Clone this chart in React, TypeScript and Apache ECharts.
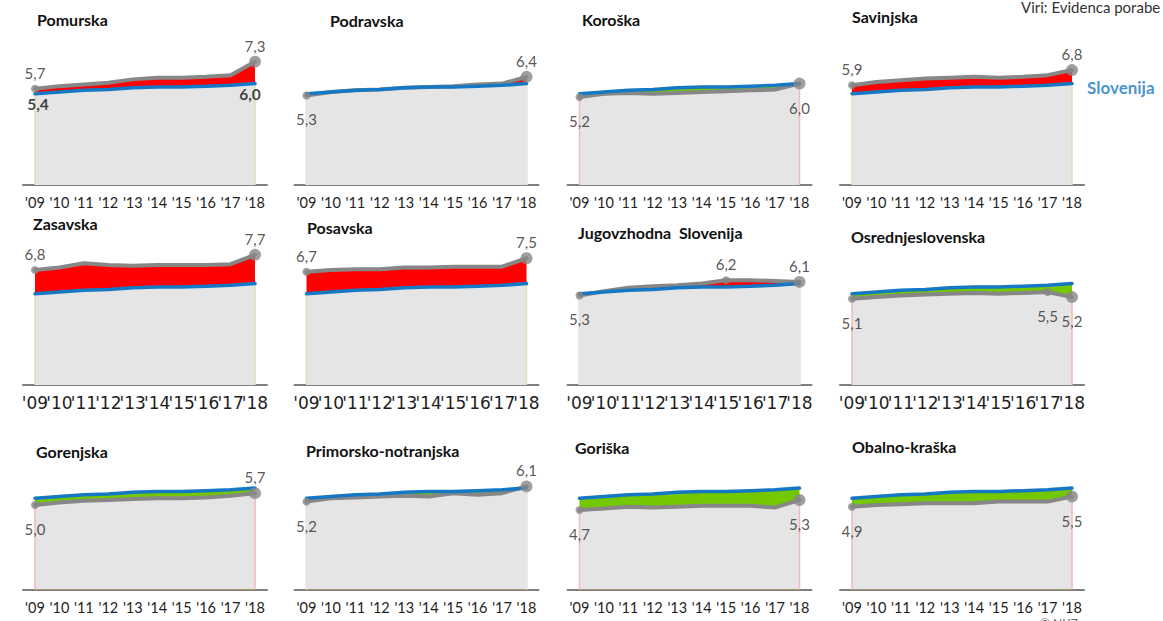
import React, { useEffect, useRef } from 'react';
import * as echarts from 'echarts';

const years = ["'09", "'10", "'11", "'12", "'13", "'14", "'15", "'16", "'17", "'18"];

const slovenija = [5.4, 5.5, 5.6, 5.65, 5.75, 5.8, 5.8, 5.85, 5.9, 6.0];

const pomurska = [5.7, 5.85, 5.95, 6.05, 6.25, 6.35, 6.35, 6.4, 6.5, 7.3];
const podravska = [5.3, 5.5, 5.6, 5.65, 5.75, 5.8, 5.85, 5.95, 6.0, 6.4];
const koroska = [5.2, 5.4, 5.45, 5.4, 5.45, 5.5, 5.55, 5.6, 5.65, 6.0];
const savinjska = [5.9, 6.1, 6.2, 6.3, 6.35, 6.4, 6.35, 6.4, 6.5, 6.8];
const zasavska = [6.8, 6.95, 7.2, 7.1, 7.05, 7.1, 7.1, 7.1, 7.15, 7.7];
const posavska = [6.7, 6.8, 6.85, 6.85, 6.95, 6.95, 7.0, 7.0, 7.0, 7.5];
const jugovzhodna = [5.3, 5.55, 5.75, 5.85, 5.9, 6.0, 6.2, 6.2, 6.15, 6.1];
const osrednjeslovenska = [5.1, 5.2, 5.3, 5.35, 5.4, 5.45, 5.4, 5.45, 5.5, 5.2];
const gorenjska = [5.0, 5.15, 5.25, 5.3, 5.35, 5.4, 5.4, 5.45, 5.55, 5.7];
const primorsko = [5.2, 5.4, 5.45, 5.5, 5.55, 5.5, 5.7, 5.6, 5.7, 6.1];
const goriska = [4.7, 4.8, 4.9, 4.85, 4.9, 4.95, 4.95, 4.95, 4.85, 5.3];
const obalno = [4.9, 5.0, 5.05, 5.1, 5.1, 5.1, 5.2, 5.2, 5.2, 5.5];

const regionNames = [
  'Pomurska', 'Podravska', 'Koroška', 'Savinjska',
  'Zasavska', 'Posavska', 'Jugovzhodna  Slovenija', 'Osrednjeslovenska',
  'Gorenjska', 'Primorsko-notranjska', 'Goriška', 'Obalno-kraška',
];
const regionValues = [
  pomurska, podravska, koroska, savinjska,
  zasavska, posavska, jugovzhodna, osrednjeslovenska,
  gorenjska, primorsko, goriska, obalno,
];
// indices of labelled points per region
const labelledPoints = [
  [0, 9], [0, 9], [0, 9], [0, 9],
  [0, 9], [0, 9], [0, 6, 9], [0, 8, 9],
  [0, 9], [0, 9], [0, 9], [0, 9],
];

// ---- layout (positions / styles) ----
const COL_X = [35, 306.5, 579.5, 852];
const ROW_BASE = [185, 385, 589.5];
const SPAN = 220;
const BAND = SPAN / 9;
const PX_PER_UNIT = 16.9;
const YMAX = 8.5;
const PLOT_H = YMAX * PX_PER_UNIT;
const TITLE_POS = [
  [37, 11], [330, 12], [582, 11], [852, 8],
  [33, 215], [307, 219], [578, 224], [851, 228],
  [36, 443], [306, 442], [575, 439], [852, 438],
];
// label sides: 1 = above, -1 = below (per labelled point)
const LABEL_SIDE = [
  [1, 1], [-1, 1], [-1, -1], [1, 1],
  [1, 1], [1, 1], [-1, 1, 1], [-1, -1, -1],
  [-1, 1], [-1, 1], [-1, -1], [-1, -1],
];
const GREY_FILL = '#e5e5e5';
const EDGE_GREEN = '#d3e6b4';
const EDGE_PINK = '#f5b9b9';
const EDGE_COLOR = [
  EDGE_GREEN, GREY_FILL, EDGE_PINK, EDGE_GREEN,
  EDGE_GREEN, EDGE_GREEN, GREY_FILL, EDGE_PINK,
  EDGE_PINK, GREY_FILL, EDGE_PINK, EDGE_PINK,
];

const GREY_LINE = '#878787';
const BLUE = '#1578c4';
const RED = '#ff0000';
const GREEN = '#74c800';

const fmt = (v: number) => v.toFixed(1).replace('.', ',');

export default function App() {
  const ref = useRef<HTMLDivElement>(null);

  useEffect(() => {
    if (!ref.current) return;
    const chart = echarts.init(ref.current, null, { renderer: 'svg' });

    const titles: any[] = [];
    const grids: any[] = [];
    const xAxes: any[] = [];
    const yAxes: any[] = [];
    const series: any[] = [];

    regionValues.forEach((R, p) => {
      const row = Math.floor(p / 4);
      const col = p % 4;
      const S = slovenija;
      const minVals = R.map((v, i) => Math.min(v, S[i]));

      titles.push({
        text: regionNames[p],
        left: TITLE_POS[p][0],
        top: TITLE_POS[p][1],
        padding: 0,
        textStyle: { fontFamily: 'Lato', fontWeight: 'bold', fontSize: 16, color: '#111' },
      });

      grids.push({
        left: COL_X[col] - BAND / 2,
        top: ROW_BASE[row] - PLOT_H,
        width: BAND * 10,
        height: PLOT_H,
        containLabel: false,
      });

      const bigRow = row === 1;
      xAxes.push({
        type: 'category',
        gridIndex: p,
        data: years,
        boundaryGap: true,
        axisLine: { show: true, lineStyle: { color: '#555', width: 1.5 } },
        axisTick: { show: false },
        axisLabel: {
          interval: 0,
          fontFamily: bigRow ? 'DejaVu Sans' : 'Lato',
          fontSize: bigRow ? 17 : 14.5,
          color: '#1e1e1e',
          margin: bigRow ? 9 : 10,
        },
        splitLine: { show: false },
      });
      yAxes.push({
        type: 'value',
        gridIndex: p,
        min: 0,
        max: YMAX,
        show: false,
        splitLine: { show: false },
      });

      const base = { xAxisIndex: p, yAxisIndex: p, silent: true, animation: false };
      const hiddenLine = { width: 0, opacity: 0 };

      // red: up to region line
      series.push({
        ...base, type: 'line', data: R, symbol: 'none', color: RED,
        lineStyle: hiddenLine, areaStyle: { color: RED, opacity: 1 }, z: 1,
      });
      // green: up to Slovenia line
      series.push({
        ...base, type: 'line', data: S, symbol: 'none', color: GREEN,
        lineStyle: hiddenLine, areaStyle: { color: GREEN, opacity: 1 }, z: 2,
      });
      // grey: up to lower of both
      series.push({
        ...base, type: 'line', data: minVals, symbol: 'none', color: GREY_FILL,
        lineStyle: hiddenLine, areaStyle: { color: GREY_FILL, opacity: 1 }, z: 3,
      });
      // thin edge lines at first/last year
      const edgeW = EDGE_COLOR[p] === GREY_FILL ? 2.5 : 1.5;
      series.push({
        ...base, type: 'bar', barWidth: edgeW, color: EDGE_COLOR[p],
        data: R.map((v, i) => (i === 0 || i === R.length - 1 ? Math.min(v, S[i]) : '-')),
        itemStyle: { color: EDGE_COLOR[p] }, z: 4,
      });
      // region line
      series.push({
        ...base, type: 'line', data: R, symbol: 'none', color: GREY_LINE,
        lineStyle: { color: GREY_LINE, width: 4, cap: 'round', join: 'round' }, z: 5,
      });
      // Slovenia line
      series.push({
        ...base, type: 'line', data: S, symbol: 'none', color: BLUE,
        lineStyle: { color: BLUE, width: 3.5, cap: 'round', join: 'round' }, z: 6,
      });
      // region markers + labels
      const pts = labelledPoints[p];
      series.push({
        ...base, type: 'scatter', z: 7, color: GREY_LINE,
        itemStyle: { color: GREY_LINE },
        data: pts.map((i, k) => {
          const side = LABEL_SIDE[p][k];
          const isLast = i === R.length - 1;
          return {
            value: [i, R[i]],
            symbolSize: isLast ? 12 : 8,
            label: {
              show: true,
              position: 'inside',
              offset: [0, side > 0 ? -16 : 24],
              formatter: fmt(R[i]),
              fontFamily: 'Lato',
              fontSize: 15,
              color: '#2b2b2b',
            },
          };
        }),
      });
      // Slovenia labels
      if (p === 0) {
        series.push({
          ...base, type: 'scatter', z: 8, symbolSize: 0,
          data: [
            { value: [0, S[0]], label: { show: true, position: 'inside', offset: [3, 10], formatter: fmt(S[0]) } },
            { value: [9, S[9]], label: { show: true, position: 'inside', offset: [-5, 10], formatter: fmt(S[9]) } },
          ],
          label: { fontFamily: 'Lato', fontWeight: 'bold', fontSize: 15.5, color: '#111' },
        });
      }
      if (p === 3) {
        series.push({
          ...base, type: 'scatter', z: 8, symbolSize: 0,
          data: [
            { value: [9, S[9]], label: { show: true, position: 'right', distance: 15, offset: [0, 4], formatter: 'Slovenija' } },
          ],
          label: { fontFamily: 'Lato', fontWeight: 'bold', fontSize: 17, color: BLUE },
        });
      }
    });

    chart.setOption({
      animation: false,
      backgroundColor: '#ffffff',
      textStyle: { fontFamily: 'Lato' },
      title: titles,
      grid: grids,
      xAxis: xAxes,
      yAxis: yAxes,
      series,
      graphic: [
        {
          type: 'text', left: 1021, top: -1,
          style: { text: 'Viri: Evidenca porabe', fontFamily: 'Lato', fontSize: 15, fill: '#333' },
        },
        {
          type: 'text', left: 1040, top: 616,
          style: { text: '© NIJZ', fontFamily: 'Lato', fontSize: 12, fill: '#666' },
        },
      ],
    });

    return () => chart.dispose();
  }, []);

  return (
    <div
      ref={ref}
      style={{ position: 'absolute', left: 0, top: 0, width: 1163, height: 621, background: '#fff' }}
    />
  );
}
